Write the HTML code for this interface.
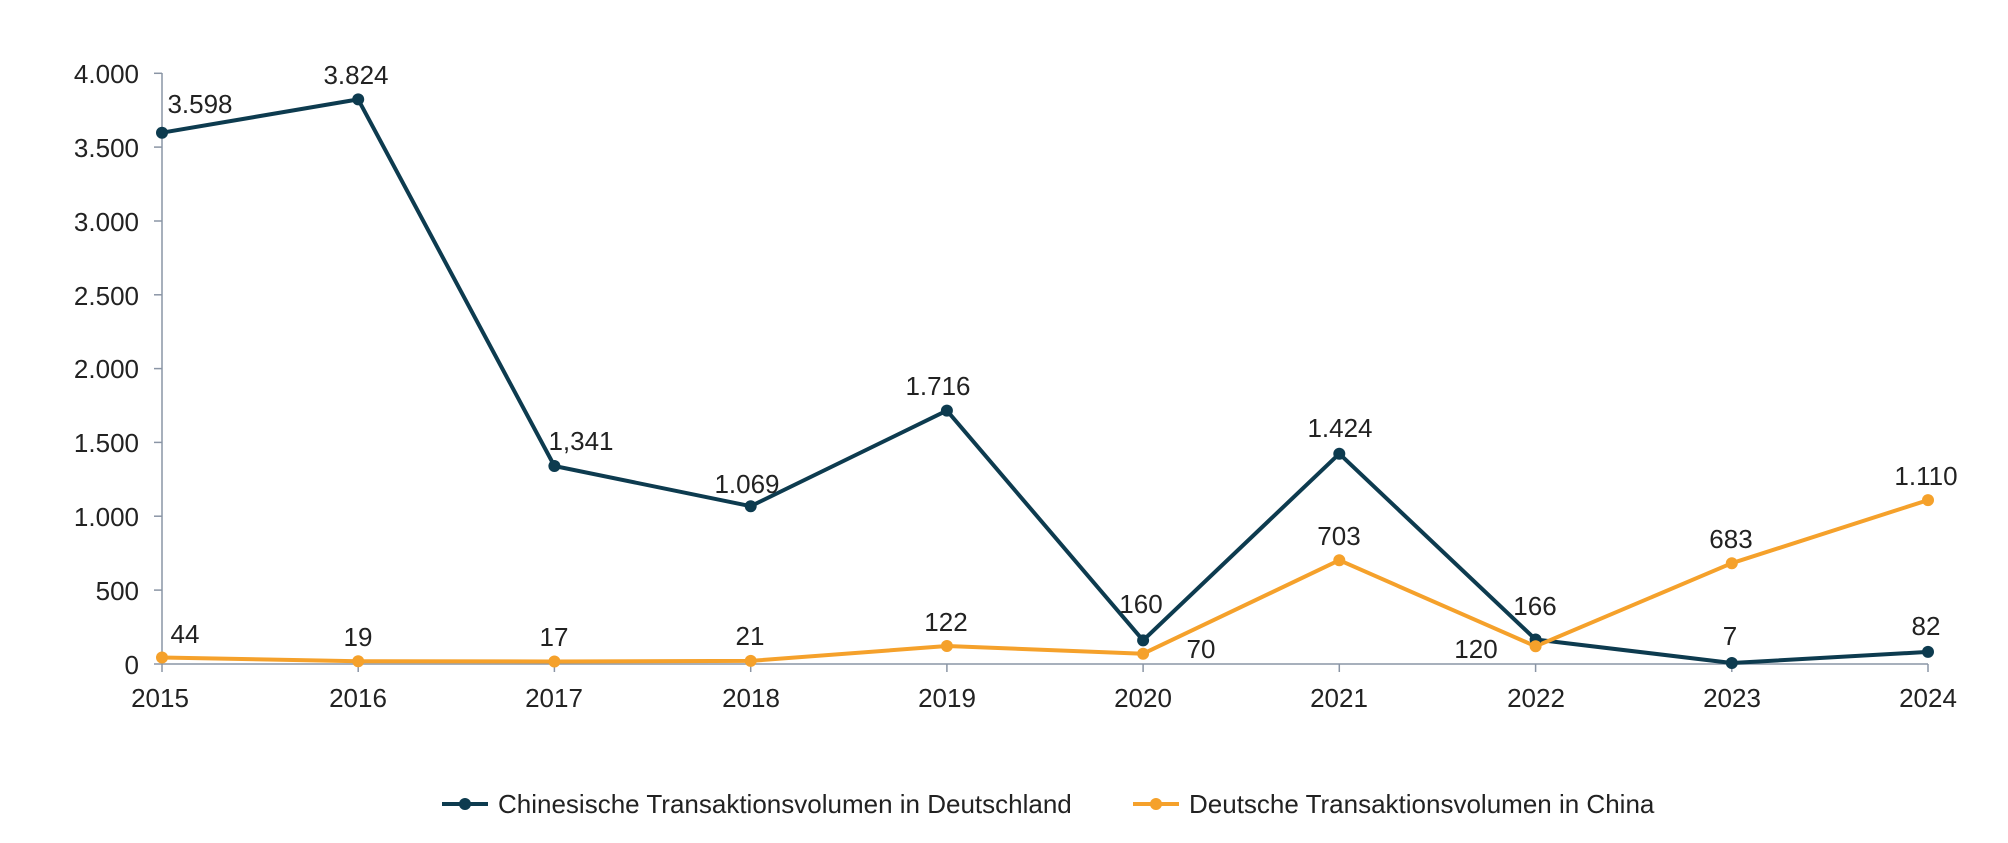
<!DOCTYPE html>
<html><head><meta charset="utf-8"><style>body{margin:0;background:#fff}svg{display:block}text{font-family:"Liberation Sans",sans-serif;fill:#222;font-size:26px}</style></head><body>
<svg width="2008" height="843" viewBox="0 0 2008 843">
<g stroke="#8a95a5" stroke-width="1.5">
<line x1="162" y1="73" x2="162" y2="664"/>
<line x1="162" y1="664" x2="1928" y2="664"/>
<line x1="154" y1="73.3" x2="162" y2="73.3"/><line x1="154" y1="147.1" x2="162" y2="147.1"/><line x1="154" y1="221" x2="162" y2="221"/><line x1="154" y1="294.8" x2="162" y2="294.8"/><line x1="154" y1="368.6" x2="162" y2="368.6"/><line x1="154" y1="442.4" x2="162" y2="442.4"/><line x1="154" y1="516.2" x2="162" y2="516.2"/><line x1="154" y1="590.1" x2="162" y2="590.1"/><line x1="154" y1="664" x2="162" y2="664"/>
<line x1="162" y1="664" x2="162" y2="672"/><line x1="358.2" y1="664" x2="358.2" y2="672"/><line x1="554.4" y1="664" x2="554.4" y2="672"/><line x1="750.7" y1="664" x2="750.7" y2="672"/><line x1="946.9" y1="664" x2="946.9" y2="672"/><line x1="1143.1" y1="664" x2="1143.1" y2="672"/><line x1="1339.3" y1="664" x2="1339.3" y2="672"/><line x1="1535.6" y1="664" x2="1535.6" y2="672"/><line x1="1731.8" y1="664" x2="1731.8" y2="672"/><line x1="1928" y1="664" x2="1928" y2="672"/>
</g>
<g text-anchor="end">
<text x="139" y="83">4.000</text><text x="139" y="157">3.500</text><text x="139" y="231">3.000</text><text x="139" y="305">2.500</text><text x="139" y="378">2.000</text><text x="139" y="452">1.500</text><text x="139" y="526">1.000</text><text x="139" y="600">500</text><text x="139" y="674">0</text>
</g>
<g text-anchor="middle">
<text x="160" y="707">2015</text><text x="358" y="707">2016</text><text x="554" y="707">2017</text><text x="751" y="707">2018</text><text x="947" y="707">2019</text><text x="1143" y="707">2020</text><text x="1339" y="707">2021</text><text x="1536" y="707">2022</text><text x="1732" y="707">2023</text><text x="1928" y="707">2024</text>
</g>
<polyline fill="none" stroke="#0d3b4f" stroke-width="4" stroke-linejoin="round" points="162,132.7 358.2,99.4 554.4,466 750.7,506.2 946.9,410.6 1143.1,640.4 1339.3,453.7 1535.6,639.5 1731.8,663 1928,651.9"/>
<polyline fill="none" stroke="#f5a12b" stroke-width="4" stroke-linejoin="round" points="162,657.5 358.2,661.2 554.4,661.5 750.7,660.9 946.9,646 1143.1,653.7 1339.3,560.2 1535.6,646.3 1731.8,563.2 1928,500.1"/>
<g fill="#0d3b4f"><circle cx="162" cy="132.7" r="6"/><circle cx="358.2" cy="99.4" r="6"/><circle cx="554.4" cy="466" r="6"/><circle cx="750.7" cy="506.2" r="6"/><circle cx="946.9" cy="410.6" r="6"/><circle cx="1143.1" cy="640.4" r="6"/><circle cx="1339.3" cy="453.7" r="6"/><circle cx="1535.6" cy="639.5" r="6"/><circle cx="1731.8" cy="663" r="6"/><circle cx="1928" cy="651.9" r="6"/></g>
<g fill="#f5a12b"><circle cx="162" cy="657.5" r="6"/><circle cx="358.2" cy="661.2" r="6"/><circle cx="554.4" cy="661.5" r="6"/><circle cx="750.7" cy="660.9" r="6"/><circle cx="946.9" cy="646" r="6"/><circle cx="1143.1" cy="653.7" r="6"/><circle cx="1339.3" cy="560.2" r="6"/><circle cx="1535.6" cy="646.3" r="6"/><circle cx="1731.8" cy="563.2" r="6"/><circle cx="1928" cy="500.1" r="6"/></g>
<g text-anchor="middle" font-size="27">
<text x="200" y="113">3.598</text><text x="356" y="84">3.824</text><text x="581" y="450">1,341</text><text x="747" y="493">1.069</text><text x="938" y="395">1.716</text><text x="1141" y="613">160</text><text x="1340" y="437">1.424</text><text x="1535" y="615">166</text><text x="1730" y="645">7</text><text x="1926" y="635">82</text>
<text x="185" y="643">44</text><text x="358" y="646">19</text><text x="554" y="646">17</text><text x="750" y="645">21</text><text x="946" y="631">122</text><text x="1201" y="658">70</text><text x="1339" y="545">703</text><text x="1476" y="658">120</text><text x="1731" y="548">683</text><text x="1926" y="485">1.110</text>
</g>
<line x1="442" y1="804" x2="488" y2="804" stroke="#0d3b4f" stroke-width="4"/><circle cx="465" cy="804" r="6" fill="#0d3b4f"/>
<text x="498" y="813" font-size="25.5">Chinesische Transaktionsvolumen in Deutschland</text>
<line x1="1133" y1="804" x2="1179" y2="804" stroke="#f5a12b" stroke-width="4"/><circle cx="1156" cy="804" r="6" fill="#f5a12b"/>
<text x="1189" y="813" font-size="25.5">Deutsche Transaktionsvolumen in China</text>
</svg>
</body></html>
